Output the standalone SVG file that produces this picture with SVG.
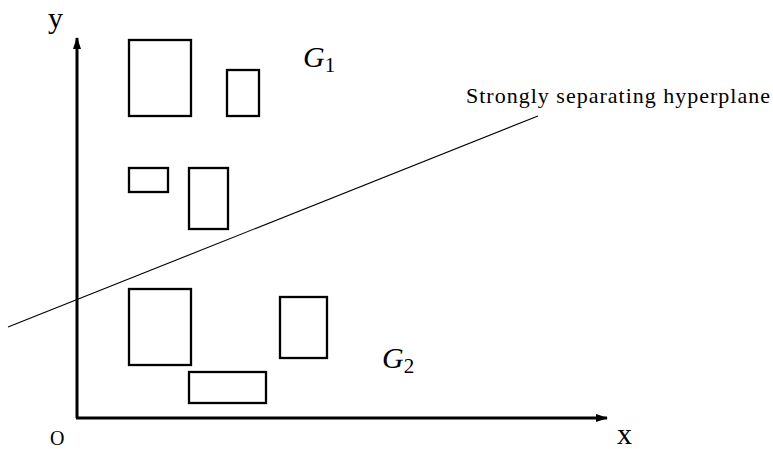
<svg xmlns="http://www.w3.org/2000/svg" width="773" height="449" viewBox="0 0 773 449">
<style>
.box{fill:none;stroke:#000;stroke-width:2.3}
.axis{fill:none;stroke:#000;stroke-width:3}
.lbl{font-family:"Liberation Serif",serif;fill:#000}
.it{font-style:italic}
</style>
<defs>
<marker id="ah" markerWidth="12" markerHeight="8" refX="11" refY="4" orient="auto" markerUnits="userSpaceOnUse">
<path d="M0,0 L12,4 L0,8 Z" fill="#000"/>
</marker>
</defs>
<rect width="773" height="449" fill="#fff"/>
<g id="connectors">
<line id="y-axis" class="axis" x1="77" y1="418" x2="77" y2="38" marker-end="url(#ah)"/>
<line id="x-axis" class="axis" x1="76" y1="418" x2="607" y2="418" marker-end="url(#ah)"/>
<line id="hyperplane" x1="8" y1="327" x2="538" y2="116" stroke="#000" stroke-width="1.1"/>
</g>
<g id="g1-rects">
<rect id="r1" class="box" x="129" y="40" width="62" height="76"/>
<rect id="r2" class="box" x="227" y="70" width="32" height="46"/>
<rect id="r3" class="box" x="129" y="168" width="39" height="24"/>
<rect id="r4" class="box" x="189" y="168" width="39" height="61"/>
</g>
<g id="g2-rects">
<rect id="r5" class="box" x="129" y="289" width="62" height="76"/>
<rect id="r6" class="box" x="280" y="297" width="47" height="61"/>
<rect id="r7" class="box" x="189" y="372" width="77" height="31"/>
</g>
<g id="labels">
<text class="lbl" x="48" y="28" font-size="30">y</text>
<text class="lbl" x="617" y="444" font-size="30">x</text>
<text class="lbl" x="50" y="445" font-size="20">O</text>
<text class="lbl" x="303" y="67" font-size="30"><tspan class="it">G</tspan><tspan font-size="21" dy="5">1</tspan></text>
<text class="lbl" x="382" y="368" font-size="30"><tspan class="it">G</tspan><tspan font-size="21" dy="5">2</tspan></text>
<text class="lbl" x="466" y="103" font-size="22" textLength="304">Strongly separating hyperplane</text>
</g>
</svg>
